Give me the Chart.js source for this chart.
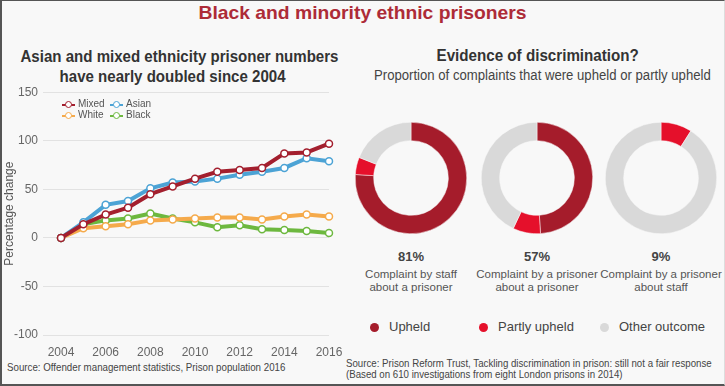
<!DOCTYPE html>
<html>
<head>
<meta charset="utf-8">
<script src="https://cdn.jsdelivr.net/npm/chart.js@4.4.1/dist/chart.umd.min.js"></script>
<style>
  html, body { margin: 0; padding: 0; }
  body { width: 725px; height: 386px; background: #f8f8f8; font-family: "Liberation Sans", Arial, sans-serif; overflow: hidden; }
  #frame { position: absolute; left: 0; top: 0; width: 722px; height: 383px; border-left: 2px solid #555; border-top: 1px solid #555; border-bottom: 2px solid #555; border-right: 1px solid #ddd; }
  .t { position: absolute; white-space: nowrap; text-align: center; }
  .t span { display: inline-block; transform-origin: center; }
  #title { left: 0; width: 725px; top: 2px; font-size: 19px; font-weight: bold; color: #ad2b37; }
  #lsub { left: 0; width: 346px; top: 47px; font-size: 17px; font-weight: bold; color: #333; line-height: 20px; }
  #rhead { left: 350px; width: 375px; top: 47px; font-size: 16px; font-weight: bold; color: #333; }
  #rsub { left: 350px; width: 384px; top: 67px; font-size: 14px; color: #444; }
  canvas { position: absolute; }
  #lineWrap { position: absolute; left: 0; top: 80px; width: 345px; height: 276px; }
  .donut { position: absolute; width: 112px; height: 112px; top: 122px; }
  .pct { position: absolute; top: 249px; width: 130px; text-align: center; font-size: 13px; font-weight: bold; color: #444; }
  .cap { position: absolute; top: 268px; width: 130px; text-align: center; font-size: 11.5px; color: #555; line-height: 13px; white-space: nowrap; }
  #legend { position: absolute; left: 62px; top: 99px; font-size: 10px; color: #555; line-height: 10.5px; }
  .li { display: inline-block; width: 32px; position: relative; padding-left: 16px; }
  .li i { position: absolute; left: 0; top: 5px; width: 13px; height: 2px; }
  .li b { position: absolute; left: 3px; top: 2px; width: 5px; height: 5px; border-radius: 50%; border: 1.5px solid; background: #fff; }
  .dl { position: absolute; top: 319px; white-space: nowrap; font-size: 13px; color: #444; }
  .dl b { position: absolute; left: -19px; top: 3.5px; width: 9px; height: 9px; border-radius: 50%; }
  .src { position: absolute; font-size: 10.5px; color: #444; line-height: 11px; white-space: nowrap; }
  .src span { display: inline-block; transform-origin: left; }
</style>
</head>
<body>
<div id="frame"></div>
<div class="t" id="title"><span data-w="328">Black and minority ethnic prisoners</span></div>
<div class="t" id="lsub"><span data-w="318" id="ls1">Asian and mixed ethnicity prisoner numbers</span><br><span data-like="ls1">have nearly doubled since 2004</span></div>
<div class="t" id="rhead"><span data-w="202">Evidence of discrimination?</span></div>
<div class="t" id="rsub"><span data-w="337">Proportion of complaints that were upheld or partly upheld</span></div>

<div id="lineWrap"><canvas id="lineChart"></canvas></div>
<div id="legend"></div>

<canvas class="donut" id="d0" style="left:355px"></canvas>
<canvas class="donut" id="d1" style="left:481px"></canvas>
<canvas class="donut" id="d2" style="left:605px"></canvas>
<div id="donutText"></div>
<div id="dlegend"></div>

<div class="src" style="left:7px; top:362px;"><span data-w="278">Source: Offender management statistics, Prison population 2016</span></div>
<div class="src" style="left:346px; top:358px;"><span data-w="366" id="rs1">Source: Prison Reform Trust, Tackling discrimination in prison: still not a fair response</span><br><span data-like="rs1">(Based on 610 investigations from eight London prisons in 2014)</span></div>

<script>
// line chart data (percentage change since 2004)
const years = ['2004','2005','2006','2007','2008','2009','2010','2011','2012','2013','2014','2015','2016'];
const mixed = [0, 14, 24, 31, 45, 53, 61, 68, 70, 72, 87, 88, 97];
const asian = [0, 16, 34, 38, 51, 57, 58, 61, 65, 68, 72, 82, 79];
const white = [0, 10, 12, 14, 18, 19, 20, 21, 21, 19, 22, 24, 22];
const black = [0, 14, 18, 20, 25, 20, 16, 11, 13, 9, 8, 7, 5];
const yTicks = [150, 100, 50, 0, -50, -100];

// donut data
const donutLabels = ['Upheld', 'Partly upheld', 'Other outcome'];
const donutColors = ['#a51c2b', '#e5102b', '#d9d9d9'];
const staffOnPrisoner = [76, 5, 19];
const prisonerOnPrisoner = [49, 8, 43];
const prisonerOnStaff = [0, 9, 91];
const donutPct = ['81%', '57%', '9%'];
const donutCaps = [['Complaint by staff', 'about a prisoner'], ['Complaint by a prisoner', 'about a prisoner'], ['Complaint by a prisoner', 'about staff']];

const series = [
  { name: 'Mixed', data: mixed, color: '#a31f2e' },
  { name: 'Asian', data: asian, color: '#4ca3d5' },
  { name: 'White', data: white, color: '#f5aa4b' },
  { name: 'Black', data: black, color: '#6db83f' }
];

// squeeze headings to the condensed width of the original
document.querySelectorAll('[data-w]').forEach(el => {
  const k = el.dataset.w / el.offsetWidth;
  el.style.transform = 'scaleX(' + k + ')';
  el.dataset.k = k;
});
document.querySelectorAll('[data-like]').forEach(el => {
  const k = document.getElementById(el.dataset.like).dataset.k;
  el.style.transform = 'scaleX(' + k + ')';
});

new Chart(document.getElementById('lineChart'), {
  type: 'line',
  data: {
    labels: years,
    datasets: series.map(s => ({
      label: s.name,
      data: s.data,
      borderColor: s.color,
      backgroundColor: '#fff',
      borderWidth: 4,
      pointRadius: 3.5,
      pointBorderWidth: 1.5,
      pointBorderColor: s.color,
      pointBackgroundColor: '#fff',
      tension: 0
    }))
  },
  options: {
    responsive: true,
    maintainAspectRatio: false,
    animation: false,
    layout: { padding: { top: 0, right: 16, left: 2, bottom: 0 } },
    plugins: { legend: { display: false }, tooltip: { enabled: false } },
    scales: {
      x: {
        offset: false,
        grid: { display: false },
        border: { display: false },
        ticks: {
          autoSkip: false, maxRotation: 0, color: '#666', padding: 2,
          font: { family: 'Liberation Sans', size: 12 },
          callback: (v, i) => i % 2 === 0 ? years[i] : ''
        },
        afterFit: s => { s.height = 21; }
      },
      y: {
        min: -100, max: 150,
        afterBuildTicks: s => { s.ticks = yTicks.map(v => ({ value: v })); },
        grid: { color: '#e2e2e2', lineWidth: 1, drawTicks: true, tickLength: 18, tickColor: '#e2e2e2' },
        border: { display: false },
        ticks: { color: '#666', padding: 5, font: { family: 'Liberation Sans', size: 12 } },
        title: { display: true, text: 'Percentage change', color: '#555', font: { family: 'Liberation Sans', size: 12 }, padding: { top: 0, bottom: 0 } },
        afterFit: s => { s.width = 59; }
      }
    }
  }
});

// legend inside the line chart
const legendEl = document.getElementById('legend');
const legendRows = [[series[0], series[1]], [series[2], series[3]]];
legendEl.innerHTML = legendRows.map(row =>
  '<div>' + row.map(s => '<span class="li"><i style="background:' + s.color + '"></i><b style="border-color:' + s.color + '"></b>' + s.name + '</span>').join('') + '</div>'
).join('');

// donuts
const donutData = [staffOnPrisoner, prisonerOnPrisoner, prisonerOnStaff];
donutData.forEach((vals, i) => {
  new Chart(document.getElementById('d' + i), {
    type: 'doughnut',
    data: {
      labels: donutLabels,
      datasets: [{ data: vals, backgroundColor: donutColors, borderColor: '#f8f8f8', borderWidth: 0.5 }]
    },
    options: {
      responsive: false,
      animation: false,
      cutout: '67%',
      layout: { padding: 0 },
      plugins: { legend: { display: false }, tooltip: { enabled: false } }
    }
  });
});

const centers = [411, 537, 661];
const dt = document.getElementById('donutText');
dt.innerHTML = centers.map((cx, i) =>
  '<div class="pct" style="left:' + (cx - 65) + 'px">' + donutPct[i] + '</div>' +
  '<div class="cap" style="left:' + (cx - 65) + 'px">' + donutCaps[i].join('<br>') + '</div>'
).join('');

const legendX = [389, 498, 619];
document.getElementById('dlegend').innerHTML = donutLabels.map((l, i) =>
  '<div class="dl" style="left:' + legendX[i] + 'px"><b style="background:' + donutColors[i] + '"></b>' + l + '</div>'
).join('');
</script>
</body>
</html>
